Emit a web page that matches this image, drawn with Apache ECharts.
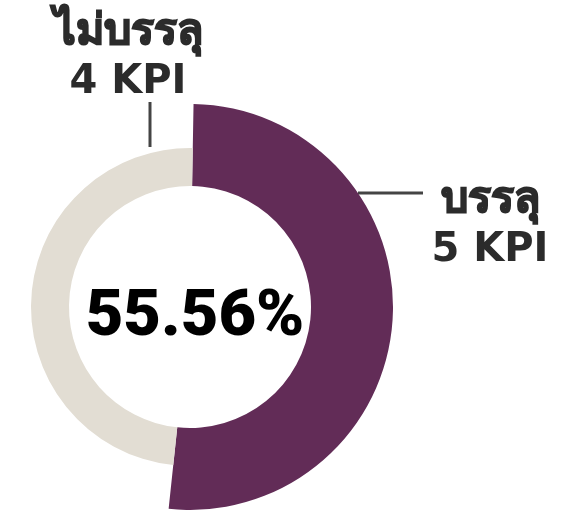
<!DOCTYPE html>
<html>
<head>
<meta charset="utf-8">
<script src="https://cdn.jsdelivr.net/npm/echarts@6/dist/echarts.min.js"></script>
<style>
  html, body { margin: 0; padding: 0; background: #fff; }
  #main { width: 575px; height: 510px; }
</style>
</head>
<body>
<div id="main"></div>
<script>
// ข้อมูล KPI
const names = ['บรรลุ', 'ไม่บรรลุ'];
const kpiCount = [5, 4];
// สัดส่วนมุมของแต่ละชิ้นตามที่เห็นในภาพ (%)
const sliceShare = [51.4, 48.6];
const colors = ['#622c57', '#e2ddd3'];

const total = kpiCount.reduce((a, b) => a + b, 0);
const percent = (kpiCount[0] / total * 100).toFixed(2) + '%';

const labelFont = '"DejaVu Sans", "Noto Sans", sans-serif';

// ตำแหน่งป้ายกำกับ
const labelPos = [
    { x: 490, y: 176, line: [[358, 193], [423, 193]] },
    { x: 128, y: 8, line: [[150, 102], [150, 147]] }
];

// series 0 = วงนอก (บรรลุ), series 1 = วงใน (ไม่บรรลุ)
const makeData = show => names.map((name, i) => ({
    name: name,
    value: sliceShare[i],
    itemStyle: { color: i === show ? colors[i] : 'rgba(0,0,0,0)' },
    label: { show: i === show },
    labelLine: { show: i === show }
}));

const chart = echarts.init(document.getElementById('main'));

const seriesItem = (radius, show) => ({
    type: 'pie',
    center: [190, 307],
    radius: radius,
    startAngle: 89,
    clockwise: true,
    silent: true,
    avoidLabelOverlap: false,
    label: {
        position: 'outside',
        formatter: p => '{t|' + p.name + '}\n{k|' + kpiCount[p.dataIndex] + ' KPI}',
        color: '#2b2b2b',
        fontFamily: labelFont,
        fontWeight: 'bold',
        fontSize: 40,
        lineHeight: 50,
        rich: {
            t: {
                fontFamily: labelFont,
                fontWeight: 'bold',
                fontSize: 43,
                lineHeight: 50,
                color: '#2b2b2b',
                textBorderColor: '#2b2b2b',
                textBorderWidth: 1.6
            },
            k: {
                fontFamily: labelFont,
                fontWeight: 'bold',
                fontSize: 40,
                lineHeight: 50,
                color: '#2b2b2b'
            }
        }
    },
    labelLine: {
        show: true,
        lineStyle: { color: '#444', width: 3 }
    },
    labelLayout: params => {
        const p = labelPos[params.dataIndex];
        return {
            x: p.x,
            y: p.y,
            align: 'center',
            verticalAlign: 'top',
            labelLinePoints: p.line
        };
    },
    data: makeData(show)
});

chart.setOption({
    animation: false,
    series: [
        seriesItem([121, 203], 0),
        seriesItem([121, 159], 1)
    ],
    graphic: [{
        type: 'text',
        x: 195,
        y: 319,
        style: {
            text: percent,
            fill: '#000',
            font: '900 65px Roboto, sans-serif',
            align: 'center',
            verticalAlign: 'middle'
        }
    }]
});
</script>
</body>
</html>
